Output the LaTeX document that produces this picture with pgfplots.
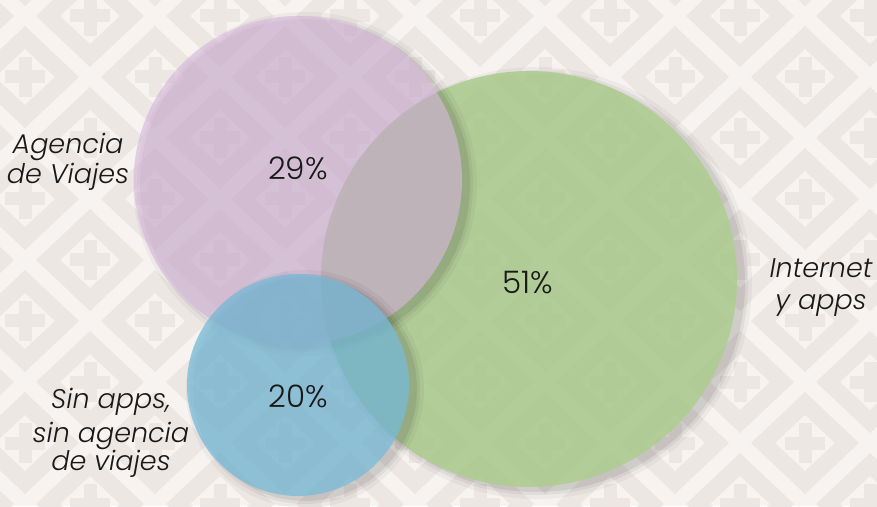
\documentclass[border=0pt]{standalone}
\usepackage{pgfplots}
\pgfplotsset{compat=1.18}
\usepackage{fontspec}
\IfFontExistsTF{Poppins Light}{\newfontfamily\pct{Poppins Light}}{\newfontfamily\pct{Poppins}}
\IfFontExistsTF{Poppins Light Italic}{\newfontfamily\lab{Poppins Light Italic}}{\newfontfamily\lab{Poppins}\def\labit{\itshape}}
\providecommand\labit{}
\definecolor{bgwhite}{RGB}{246,243,240}
\definecolor{bgtan}{RGB}{237,231,228}
\definecolor{cgreen}{RGB}{175,205,147}
\definecolor{cpurple}{RGB}{218,185,223}
\definecolor{cblue}{RGB}{119,187,217}
\definecolor{txt}{RGB}{25,25,25}
\tikzset{
  lbl/.style={anchor=base, font=\lab\labit\fontsize{27}{31}\selectfont, text=txt},
  pctl/.style={font=\pct\fontsize{31}{37}\selectfont, text=txt},
}
\pgfplotsset{
  shadowdisk/.style n args={2}{only marks, mark=*, mark size=#1,
    mark options={draw=black, draw opacity=0, fill=black, fill opacity=#2, xshift=7pt, yshift=-4pt}},
  circ/.style n args={3}{only marks, mark=*, mark size=#1,
    mark options={draw=#2, draw opacity=0, fill=#2, fill opacity=#3}},
}
\begin{document}
\begin{tikzpicture}
\useasboundingbox (0,0) rectangle (877pt,506pt);
% background pattern (decoration)
\begin{scope}[x=1pt,y=1pt]
\clip (0,0) rectangle (877,506);
\fill[bgwhite] (0,0) rectangle (877,506);
\foreach \j in {-1,...,9}{
  \foreach \i in {-1,...,7}{
    \pgfmathsetmacro\cx{90+130*\i+65*mod(\j,2)}
    \pgfmathsetmacro\cy{506-16-61*\j}
    \fill[bgtan, even odd rule]
      (\cx-54,\cy) -- (\cx,\cy+51) -- (\cx+54,\cy) -- (\cx,\cy-51) -- cycle
      (\cx-30,\cy) -- (\cx,\cy+28) -- (\cx+30,\cy) -- (\cx,\cy-28) -- cycle;
    \fill[bgtan] (\cx-20,\cy-6.5) rectangle (\cx+20,\cy+6.5);
    \fill[bgtan] (\cx-6.5,\cy-20) rectangle (\cx+6.5,\cy+20);
  }
}
\end{scope}
\begin{axis}[at={(0,0)}, anchor=south west, scale only axis,
  width=877pt, height=506pt, xmin=0, xmax=877, ymin=0, ymax=506,
  hide axis, clip=false]
% Internet y apps (51%): centre (529,227), radius 208
\addplot[shadowdisk={216}{0.04}] coordinates {(529,227)};
\addplot[shadowdisk={212}{0.05}] coordinates {(529,227)};
\addplot[shadowdisk={209}{0.07}] coordinates {(529,227)};
\addplot[circ={208}{cgreen}{0.9}] coordinates {(529,227)};
% Agencia de Viajes (29%): centre (298,326), radius 164
\addplot[shadowdisk={172}{0.04}] coordinates {(298,326)};
\addplot[shadowdisk={168}{0.05}] coordinates {(298,326)};
\addplot[shadowdisk={165}{0.07}] coordinates {(298,326)};
\addplot[circ={164}{cpurple}{0.6}] coordinates {(298,326)};
% Sin apps, sin agencia de viajes (20%): centre (298,121), radius 111
\addplot[shadowdisk={119}{0.04}] coordinates {(298,121)};
\addplot[shadowdisk={115}{0.05}] coordinates {(298,121)};
\addplot[shadowdisk={112}{0.07}] coordinates {(298,121)};
\addplot[circ={111}{cblue}{0.75}] coordinates {(298,121)};
\coordinate (t29) at (axis cs:298,338);
\coordinate (t51) at (axis cs:528,223);
\coordinate (t20) at (axis cs:298,110);
\coordinate (l1) at (axis cs:68,352);
\coordinate (l2) at (axis cs:68,322);
\coordinate (l3) at (axis cs:821,228);
\coordinate (l4) at (axis cs:821,196);
\coordinate (l5) at (axis cs:111,98);
\coordinate (l6) at (axis cs:111,64);
\coordinate (l7) at (axis cs:111,36);
\end{axis}
\node[pctl] at (t29) {29\%};
\node[pctl] at (t51) {51\%};
\node[pctl] at (t20) {20\%};
\node[lbl] at (l1) {Agencia};
\node[lbl] at (l2) {de Viajes};
\node[lbl] at (l3) {Internet};
\node[lbl] at (l4) {y apps};
\node[lbl] at (l5) {Sin apps,};
\node[lbl] at (l6) {sin agencia};
\node[lbl] at (l7) {de viajes};
\end{tikzpicture}
\end{document}
